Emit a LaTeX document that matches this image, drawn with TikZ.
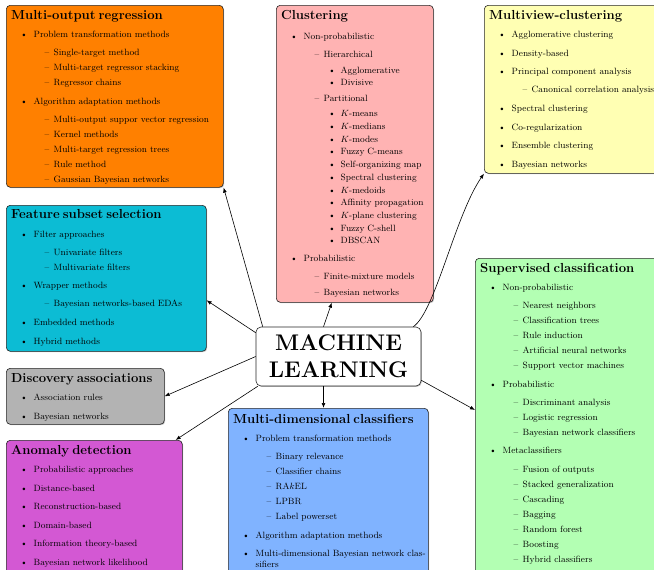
\documentclass[tikz,border=0pt]{standalone}
\usetikzlibrary{arrows.meta,calc,shadows}

\definecolor{cOrange}{RGB}{255,128,0}
\definecolor{cPink}{RGB}{255,179,179}
\definecolor{cYellow}{RGB}{255,255,179}
\definecolor{cCyan}{RGB}{12,188,212}
\definecolor{cGray}{RGB}{179,179,179}
\definecolor{cMagenta}{RGB}{211,88,211}
\definecolor{cBlue}{RGB}{128,179,255}
\definecolor{cGreen}{RGB}{179,255,179}

% nested list layout inside the topic boxes
\newcount\prevlvl
\newcommand\defgap[3]{\expandafter\def\csname gap#1to#2\endcsname{#3}}
\defgap01{18.3pt}
\defgap11{18.6pt}
\defgap12{18.2pt}
\defgap21{18.5pt}
\defgap22{15pt}
\defgap23{15.3pt}
\defgap33{12.7pt}
\defgap32{15.6pt}
\defgap31{17.7pt}
\newcommand\deflevel[3]{%
  \expandafter\def\csname ind#1\endcsname{#2}%
  \expandafter\def\csname lab#1\endcsname{#3}}
\deflevel1{22.5pt}{\textbullet\hskip6pt}
\deflevel2{42.5pt}{\textendash\hskip4.5pt}
\deflevel3{59.5pt}{\textbullet\hskip5pt}

\newcommand\heading[1]{%
  \parindent=0pt \parskip=0pt \rightskip=0pt plus 1fil\relax
  \lineskiplimit=-\maxdimen \global\prevlvl=0
  \noindent{\fontsize{13.1}{15}\selectfont\bfseries\rule{0pt}{10pt}#1}}

\newcommand\entry[3][]{%
  \par
  \ifx\relax#1\relax
    \vskip\dimexpr\csname gap\the\prevlvl to#2\endcsname-\baselineskip\relax
  \else
    \vskip\dimexpr#1-\baselineskip\relax
  \fi
  \leftskip=\csname ind#2\endcsname\relax
  \noindent\llap{\csname lab#2\endcsname}#3%
  \global\prevlvl=#2\relax}

\tikzset{
  topic/.style={draw=black!85, line width=0.6pt, rounded corners=4pt,
    anchor=north west, inner sep=0pt,
    drop shadow={shadow xshift=0.9pt, shadow yshift=-0.9pt, opacity=0.45}},
  body/.style={anchor=north west, inner sep=0pt, text width=#1,
    font=\fontsize{9.1}{11}\selectfont},
  mlbox/.style={draw=black!85, line width=0.6pt, fill=white, rounded corners=5pt,
    minimum width=165pt, minimum height=59pt, inner sep=0pt, align=center,
    font=\fontsize{22.6}{27.3}\selectfont\bfseries,
    drop shadow={shadow xshift=0.9pt, shadow yshift=-0.9pt, opacity=0.45}},
  link/.style={-{Latex[length=5pt,width=3.8pt]}, line width=0.6pt, black}
}

\begin{document}
\begin{tikzpicture}[x=1pt,y=-1pt]
\useasboundingbox (0,0) rectangle (654,570);
\clip (0,0) rectangle (654,570);

% ---- topic boxes ----
\node[topic, fill=cOrange, minimum width=217pt, minimum height=182pt] (mor) at (6,5) {};
\node[body=208pt] (mort) at ($(mor.north west)+(5,4)$) {\heading{Multi-output regression}
  \entry{1}{Problem transformation methods}
  \entry{2}{Single-target method}
  \entry{2}{Multi-target regressor stacking}
  \entry{2}{Regressor chains}
  \entry{1}{Algorithm adaptation methods}
  \entry{2}{Multi-output suppor vector regression}
  \entry{2}{Kernel methods}
  \entry{2}{Multi-target regression trees}
  \entry{2}{Rule method}
  \entry{2}{Gaussian Bayesian networks}\par};

\node[topic, fill=cPink, minimum width=157pt, minimum height=297pt] (clus) at (276,5) {};
\node[body=150pt] (clust) at ($(clus.north west)+(5,4)$) {\heading{Clustering}
  \entry[20.5pt]{1}{Non-probabilistic}
  \entry{2}{Hierarchical}
  \entry{3}{Agglomerative}
  \entry{3}{Divisive}
  \entry{2}{Partitional}
  \entry{3}{$K$-means}
  \entry{3}{$K$-medians}
  \entry{3}{$K$-modes}
  \entry{3}{Fuzzy C-means}
  \entry{3}{Self-organizing map}
  \entry{3}{Spectral clustering}
  \entry{3}{$K$-medoids}
  \entry{3}{Affinity propagation}
  \entry{3}{$K$-plane clustering}
  \entry{3}{Fuzzy C-shell}
  \entry{3}{DBSCAN}
  \entry{1}{Probabilistic}
  \entry{2}{Finite-mixture models}
  \entry[16pt]{2}{Bayesian networks}\par};

\node[topic, fill=cYellow, minimum width=180pt, minimum height=168pt] (mv) at (484,5) {};
\node[body=172pt] (mvt) at ($(mv.north west)+(5,4)$) {\heading{Multiview-clustering}
  \entry{1}{Agglomerative clustering}
  \entry{1}{Density-based}
  \entry{1}{Principal component analysis}
  \entry{2}{Canonical correlation analysis}
  \entry{1}{Spectral clustering}
  \entry{1}{Co-regularization}
  \entry{1}{Ensemble clustering}
  \entry{1}{Bayesian networks}\par};

\node[topic, fill=cCyan, minimum width=200pt, minimum height=146pt] (fss) at (6,205) {};
\node[body=192pt] (fsst) at ($(fss.north west)+(5,3.5)$) {\heading{Feature subset selection}
  \entry{1}{Filter approaches}
  \entry{2}{Univariate filters}
  \entry{2}{Multivariate filters}
  \entry{1}{Wrapper methods}
  \entry{2}{Bayesian networks-based EDAs}
  \entry{1}{Embedded methods}
  \entry{1}{Hybrid methods}\par};

\node[topic, fill=cGray, minimum width=158pt, minimum height=56pt] (da) at (6,368) {};
\node[body=150pt] (dat) at ($(da.north west)+(5,4)$) {\heading{Discovery associations}
  \entry{1}{Association rules}
  \entry{1}{Bayesian networks}\par};

\node[topic, fill=cMagenta, minimum width=176pt, minimum height=135pt] (ad) at (6,440) {};
\node[body=168pt] (adt) at ($(ad.north west)+(5,4)$) {\heading{Anomaly detection}
  \entry{1}{Probabilistic approaches}
  \entry{1}{Distance-based}
  \entry{1}{Reconstruction-based}
  \entry{1}{Domain-based}
  \entry{1}{Information theory-based}
  \entry{1}{Bayesian network likelihood}\par};

\node[topic, fill=cBlue, minimum width=200pt, minimum height=166pt] (mdc) at (228,408) {};
\node[body=194pt] (mdct) at ($(mdc.north west)+(5,5)$) {\heading{Multi-dimensional classifiers}
  \entry{1}{Problem transformation methods}
  \entry{2}{Binary relevance}
  \entry{2}{Classifier chains}
  \entry{2}{RA$k$EL}
  \entry{2}{LPBR}
  \entry{2}{Label powerset}
  \entry{1}{Algorithm adaptation methods}
  \entry{1}{\mbox{Multi-dimensional Bayesian network clas-}\newline sifiers}\par};

\node[topic, fill=cGreen, minimum width=185pt, minimum height=317pt] (sc) at (475,258) {};
\node[body=178pt] (sct) at ($(sc.north west)+(5,4)$) {\heading{Supervised classification}
  \entry{1}{Non-probabilistic}
  \entry{2}{Nearest neighbors}
  \entry{2}{Classification trees}
  \entry{2}{Rule induction}
  \entry{2}{Artificial neural networks}
  \entry{2}{Support vector machines}
  \entry{1}{Probabilistic}
  \entry{2}{Discriminant analysis}
  \entry{2}{Logistic regression}
  \entry{2}{Bayesian network classifiers}
  \entry{1}{Metaclassifiers}
  \entry{2}{Fusion of outputs}
  \entry{2}{Stacked generalization}
  \entry{2}{Cascading}
  \entry{2}{Bagging}
  \entry{2}{Random forest}
  \entry{2}{Boosting}
  \entry{2}{Hybrid classifiers}\par};

% ---- central node ----
\node[mlbox] (ml) at (338.5,356.5) {MACHINE\\LEARNING};

% ---- connectors ----
\draw[link] ($(ml.north west)+(7,0)$) -- (mor.south east);
\draw[link] ($(ml.north)+(-15,0)$) -- ($(clus.south)+(-23,0)$);
\draw[link] ($(ml.north east)+(-8,0)$) .. controls +(22,-15) and +(-29,42) .. (mv.south west);
\draw[link] ($(ml.north west)+(0,6)$) -- ($(fss.east)+(0,22)$);
\draw[link] (ml.west) -- (da.east);
\draw[link] ($(ml.south west)+(2,0)$) -- ($(ad.north east)+(-7,0)$);
\draw[link] ($(ml.south)+(-15,0)$) coordinate (mdcin) -- (mdcin |- mdc.north);
\draw[link] ($(ml.south east)+(0,-6)$) -- ($(sc.north west)+(0,152)$);
\end{tikzpicture}
\end{document}
